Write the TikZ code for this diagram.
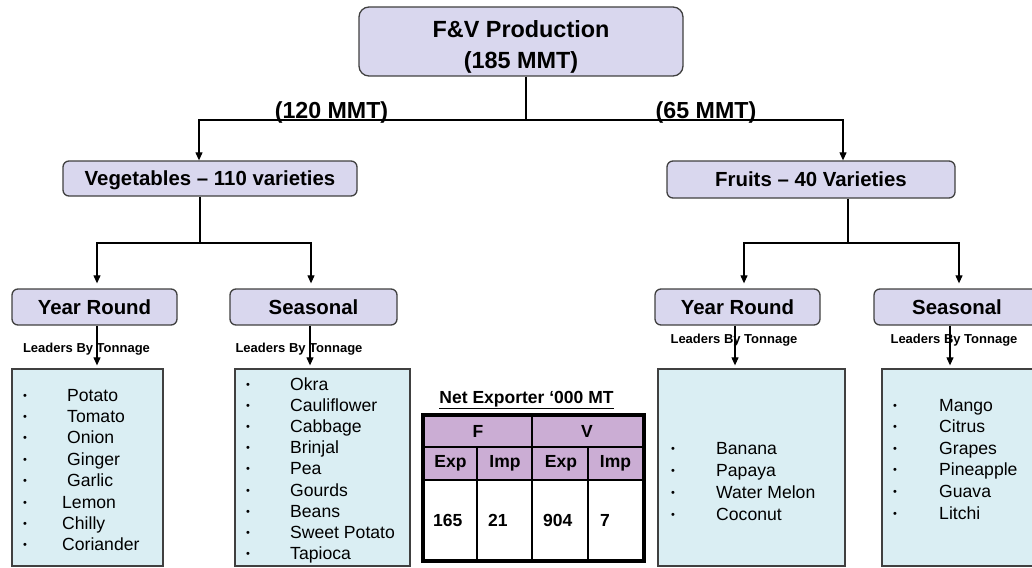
\documentclass[tikz,border=0pt]{standalone}
\usepackage{fontspec}
\setmainfont{Liberation Sans}
\usetikzlibrary{arrows.meta}

\definecolor{boxfill}{HTML}{D9D7EE}
\definecolor{boxline}{HTML}{404040}
\definecolor{listfill}{HTML}{DAEEF3}
\definecolor{headfill}{HTML}{CBADD4}

\begin{document}
\begin{tikzpicture}[x=1pt,y=-1pt,
  catbox/.style={draw=boxline, line width=1.3pt, fill=boxfill, rounded corners=6pt,
    inner sep=0pt, text height=14.5pt, text depth=0pt,
    font=\bfseries\fontsize{20.4}{24}\selectfont},
  listbox/.style={draw=boxline, line width=1.3pt, fill=listfill, inner sep=0pt},
  conn/.style={line width=1.1pt, black},
  arr/.style={conn, -{Triangle[length=8pt,width=7pt]}},
  lead/.style={font=\bfseries\fontsize{13}{15}\selectfont, inner sep=0pt},
  item/.style={font=\fontsize{17.6}{20}\selectfont, anchor=base west, inner sep=0pt},
  bul/.style={font=\fontsize{11}{12}\selectfont, inner sep=0pt},
  cell/.style={font=\bfseries\fontsize{17.5}{20}\selectfont, inner sep=0pt},
  mmt/.style={font=\bfseries\fontsize{23.2}{26}\selectfont, anchor=base, inner sep=0pt},
]
\useasboundingbox (0,0) rectangle (1032,567);

% ---- hierarchy boxes
\node[catbox, minimum width=324pt, minimum height=69pt, rounded corners=10pt] (top) at (521,41.5) {};
\node[align=center, inner sep=0pt, font=\bfseries\fontsize{23.4}{31}\selectfont]
  (toptxt) at (521,46.5) {F\&V Production\\(185 MMT)};
\node[catbox, minimum width=294pt, minimum height=35pt] (veg) at (210,178.5) {Vegetables – 110 varieties};
\node[catbox, minimum width=288pt, minimum height=37pt] (fru) at (811,179.5) {Fruits – 40 Varieties};

\node[catbox, minimum width=165pt, minimum height=36pt] (yrL) at (94.5,307) {Year Round};
\node[catbox, minimum width=167pt, minimum height=36pt] (seL) at (313.5,307) {Seasonal};
\node[catbox, minimum width=165pt, minimum height=36pt] (yrR) at (737.5,307) {Year Round};
\node[catbox, minimum width=166pt, minimum height=36pt] (seR) at (957,307) {Seasonal};

% ---- production split
\node[mmt] (mv) at (331.5,118) {(120 MMT)};
\node[mmt] (mf) at (706,118) {(65 MMT)};

\coordinate (jt) at (526,120);
\draw[conn] (top.south -| jt) -- (jt);
\draw[arr] (jt) -| ([xshift=-11pt]veg.north);
\draw[arr] (jt) -| ([xshift=32pt]fru.north);

\coordinate (jv) at (200,243);
\draw[conn] (veg.south -| jv) -- (jv);
\draw[arr, shorten >=5pt] (jv) -| ([xshift=2.5pt]yrL.north);
\draw[arr, shorten >=5pt] (jv) -| ([xshift=-2.5pt]seL.north);

\coordinate (jf) at (848,243);
\draw[conn] (fru.south -| jf) -- (jf);
\draw[arr, shorten >=5pt] (jf) -| ([xshift=6.5pt]yrR.north);
\draw[arr, shorten >=5pt] (jf) -| ([xshift=2pt]seR.north);

% ---- lists of leading crops
\node[listbox, minimum width=151pt, minimum height=197pt] (l1) at (87.5,467.5) {};
\node[listbox, minimum width=175pt, minimum height=197pt] (l2) at (322.5,467.5) {};
\node[listbox, minimum width=187pt, minimum height=197pt] (l3) at (751.5,467.5) {};
\node[listbox, minimum width=158pt, minimum height=197pt] (l4) at (961,467.5) {};

\node[lead] (ld1) at (86.5,349) {Leaders By Tonnage};
\node[lead] (ld2) at (299,349) {Leaders By Tonnage};
\node[lead] (ld3) at (734,340) {Leaders By Tonnage};
\node[lead] (ld4) at (954,340) {Leaders By Tonnage};

\draw[arr, shorten >=3pt] ([xshift=2.5pt]yrL.south) -- ([xshift=2.5pt]yrL.south |- l1.north);
\draw[arr, shorten >=3pt] ([xshift=-3.5pt]seL.south) -- ([xshift=-3.5pt]seL.south |- l2.north);
\draw[arr, shorten >=3pt] ([xshift=-2.5pt]yrR.south) -- ([xshift=-2.5pt]yrR.south |- l3.north);
\draw[arr, shorten >=3pt] ([xshift=-7pt]seR.south) -- ([xshift=-7pt]seR.south |- l4.north);

\foreach \t [count=\i from 0] in {Potato,Tomato,Onion,Ginger,Garlic}{
  \node[item] (a\i) at (67,{401+21.4*\i}) {\t};
  \node[bul] (ab\i) at (25,{401+21.4*\i-4.5}) {•};
}
\foreach \t [count=\i from 5] in {Lemon,Chilly,Coriander}{
  \node[item] (a\i) at (62,{401+21.4*\i}) {\t};
  \node[bul] (ab\i) at (25,{401+21.4*\i-4.5}) {•};
}
\foreach \t [count=\i from 0] in {Okra,Cauliflower,Cabbage,Brinjal,Pea,Gourds,Beans,Sweet Potato,Tapioca}{
  \node[item] (b\i) at (290,{390+21.2*\i}) {\t};
  \node[bul] (bb\i) at (248,{390+21.2*\i-4.5}) {•};
}
\foreach \t [count=\i from 0] in {Banana,Papaya,Water Melon,Coconut}{
  \node[item] (c\i) at (716,{454+22*\i}) {\t};
  \node[bul] (cb\i) at (673,{454+22*\i-4.5}) {•};
}
\foreach \t [count=\i from 0] in {Mango,Citrus,Grapes,Pineapple,Guava,Litchi}{
  \node[item] (d\i) at (939,{411+21.6*\i}) {\t};
  \node[bul] (db\i) at (895,{411+21.6*\i-4.5}) {•};
}

% ---- trade table
\node[cell, anchor=base] (ttl) at (526.5,403) {\underline{Net Exporter ‘000 MT}};
\fill[headfill] (424,416) rectangle (642,480);
\fill[white] (424,480) rectangle (642,559);
\draw[line width=1.2pt] (424,447) -- (642,447) (424,480) -- (642,480)
  (532,416) -- (532,559) (477,447) -- (477,559) (588,447) -- (588,559);
\draw[line width=4pt] (422.5,414.5) rectangle (643.5,560.5);

\node[cell] (hF) at (478,431.5) {F};
\node[cell] (hV) at (587,431.5) {V};
\node[cell] (e1) at (450.5,463.5) {Exp};
\node[cell] (i1) at (505,463.5) {Imp};
\node[cell] (e2) at (561,463.5) {Exp};
\node[cell] (i2) at (615.5,463.5) {Imp};
\node[cell, anchor=west] (v1) at (433,520) {165};
\node[cell, anchor=west] (v2) at (488,520) {21};
\node[cell, anchor=west] (v3) at (543,520) {904};
\node[cell, anchor=west] (v4) at (600,520) {7};
\end{tikzpicture}
\end{document}
